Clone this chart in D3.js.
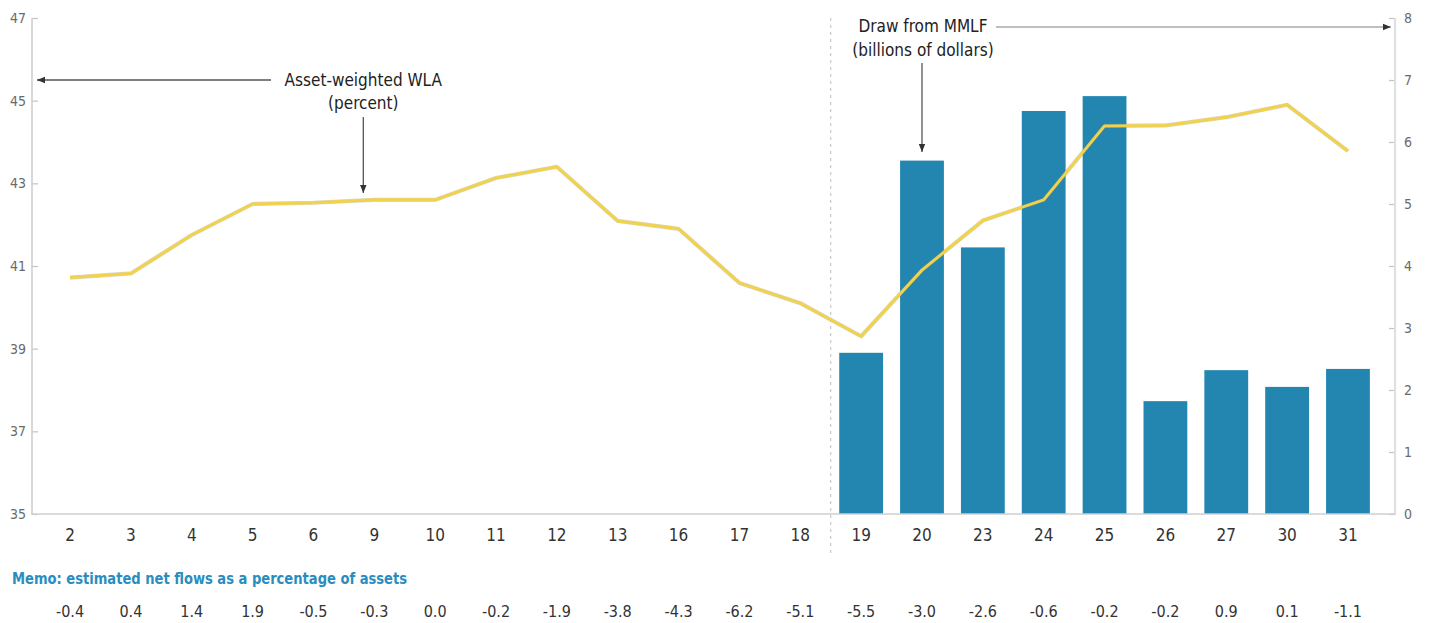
<!DOCTYPE html>
<html><head><meta charset="utf-8">
<script src="https://cdn.jsdelivr.net/npm/d3@7"></script>
<style>
html,body{margin:0;padding:0;background:#fff;}
svg text{font-family:"DejaVu Sans Condensed","Liberation Sans Narrow","Roboto Condensed","DejaVu Sans",sans-serif;font-stretch:condensed;}
</style></head>
<body>
<svg id="chart" width="1429" height="623"></svg>
<script>
const categories = ["2","3","4","5","6","9","10","11","12","13","16","17","18","19","20","23","24","25","26","27","30","31"];
const wla = [40.72,40.82,41.75,42.5,42.53,42.6,42.6,43.13,43.4,42.09,41.9,40.59,40.1,39.3,40.9,42.1,42.6,44.39,44.4,44.6,44.9,43.78];
const mmlf = [null,null,null,null,null,null,null,null,null,null,null,null,null,2.6,5.7,4.3,6.5,6.74,1.82,2.32,2.05,2.34];
const memo = ["-0.4","0.4","1.4","1.9","-0.5","-0.3","0.0","-0.2","-1.9","-3.8","-4.3","-6.2","-5.1","-5.5","-3.0","-2.6","-0.6","-0.2","-0.2","0.9","0.1","-1.1"];
const leftTicks = [35,37,39,41,43,45,47];
const rightTicks = [0,1,2,3,4,5,6,7,8];
const memoTitle = "Memo: estimated net flows as a percentage of assets";

(function(){
const svg = d3.select("#chart");
const pTop = 18, pBottom = 514, axL = 32, axR = 1395;

const x = d3.scaleBand().domain(categories).range([39.6, 1378.4]).paddingInner(0.28).paddingOuter(0.14);
const cx = d => x(d) + x.bandwidth()/2;
const yL = d3.scaleLinear().domain([35,47]).range([pBottom, pTop]);
const yR = d3.scaleLinear().domain([0,8]).range([pBottom, pTop]);

// dashed divider
const divX = (cx("18") + cx("19"))/2;
svg.append("line").attr("x1",divX).attr("x2",divX).attr("y1",pTop).attr("y2",553)
  .attr("stroke","#c8c8c8").attr("stroke-width",1.2).attr("stroke-dasharray","3,4");

// bars
svg.append("g").selectAll("rect")
  .data(categories.map((c,i)=>({c, v:mmlf[i]})).filter(d=>d.v!==null))
  .join("rect")
  .attr("x", d=>x(d.c)).attr("width", x.bandwidth())
  .attr("y", d=>yR(d.v)).attr("height", d=>pBottom - yR(d.v))
  .attr("fill","#2386b1");

// line
const line = d3.line().x((d,i)=>cx(categories[i])).y(d=>yL(d));
svg.append("path").datum(wla).attr("d",line).attr("fill","none")
  .attr("stroke","#9a8f60").attr("stroke-opacity",0.35).attr("stroke-width",4.2).attr("stroke-linejoin","round");
svg.append("path").datum(wla).attr("d",line).attr("fill","none")
  .attr("stroke","#f0d24c").attr("stroke-width",3).attr("stroke-linejoin","round");

// axes
const gl = svg.append("g").attr("transform",`translate(${axL},0)`)
  .call(d3.axisLeft(yL).tickValues(leftTicks).tickSize(-6).tickPadding(6).tickFormat(d3.format("d")));
const gr = svg.append("g").attr("transform",`translate(${axR},0)`)
  .call(d3.axisRight(yR).tickValues(rightTicks).tickSize(-6).tickPadding(9).tickFormat(d3.format("d")));
[gl,gr].forEach(g=>{
  g.select(".domain").remove();
  g.selectAll(".tick line").attr("stroke","#c4c4c4").attr("stroke-width",1.2);
  g.selectAll(".tick text").attr("fill","#6a6a6a").style("font-size","14px");
});
svg.append("line").attr("x1",axL).attr("x2",axL).attr("y1",pTop).attr("y2",pBottom+1).attr("stroke","#cfcfcf").attr("stroke-width",1.6);
svg.append("line").attr("x1",axR).attr("x2",axR).attr("y1",pTop).attr("y2",pBottom+1).attr("stroke","#e0e0e0").attr("stroke-width",2.2);
svg.append("line").attr("x1",axL).attr("x2",axR).attr("y1",pBottom).attr("y2",pBottom).attr("stroke","#cfcfcf").attr("stroke-width",1.6);

const gx = svg.append("g").attr("transform",`translate(0,${pBottom})`)
  .call(d3.axisBottom(x).tickSize(0).tickPadding(15));
gx.select(".domain").remove();
gx.selectAll(".tick text").attr("fill","#333").style("font-size","17px");

// memo
svg.append("text").attr("x",12).attr("y",584).text(memoTitle)
  .attr("fill","#2a8dc0").style("font-size","16.5px").style("font-weight","bold")
  .attr("textLength",395).attr("lengthAdjust","spacingAndGlyphs");
svg.append("g").selectAll("text").data(memo).join("text")
  .attr("x",(d,i)=>cx(categories[i])).attr("y",617).attr("text-anchor","middle")
  .attr("fill","#333").style("font-size","16px").text(d=>d);

// annotations
const defs = svg.append("defs");
defs.append("marker").attr("id","ah").attr("viewBox","0 0 10 10").attr("refX",10).attr("refY",5)
  .attr("markerWidth",8).attr("markerHeight",8).attr("markerUnits","userSpaceOnUse").attr("orient","auto")
  .append("path").attr("d","M0,1 L10,5 L0,9 Z").attr("fill","#333");
function arrow(x1,y1,x2,y2,c){
  svg.append("line").attr("x1",x1).attr("y1",y1).attr("x2",x2).attr("y2",y2)
    .attr("stroke",c||"#555").attr("stroke-width",1.3).attr("marker-end","url(#ah)");
}
const ann = svg.append("g").attr("fill","#222").style("font-size","17px").attr("text-anchor","middle");
ann.append("text").attr("x",cx("9")-11).attr("y",86).text("Asset-weighted WLA");
ann.append("text").attr("x",cx("9")-11).attr("y",109).text("(percent)");
arrow(271,80,37,80,"#555");
arrow(cx("9")-11,117,cx("9")-11,193,"#555");

ann.append("text").attr("x",cx("20")+1).attr("y",32).text("Draw from MMLF");
ann.append("text").attr("x",cx("20")+1).attr("y",56).text("(billions of dollars)");
arrow(996,27,1391,27,"#aaa");
arrow(cx("20"),63,cx("20"),152,"#555");
})();
</script>
</body></html>
